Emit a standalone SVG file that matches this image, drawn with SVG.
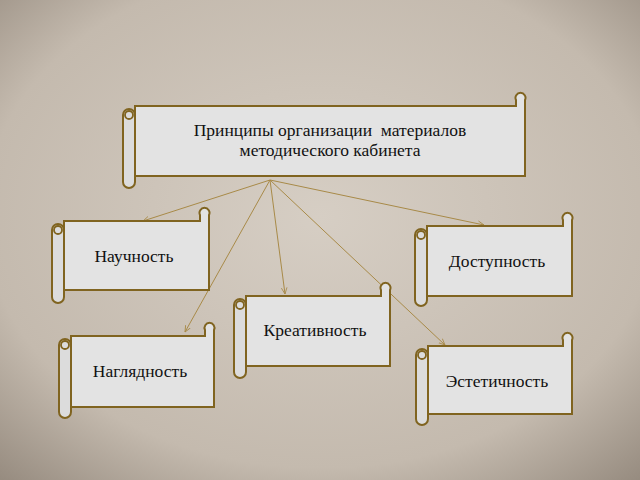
<svg xmlns="http://www.w3.org/2000/svg" width="640" height="480" viewBox="0 0 640 480">
<defs>
<radialGradient id="bg" cx="50%" cy="45%" r="75%">
<stop offset="0" stop-color="#d6cec4"/><stop offset="0.7" stop-color="#c4baae"/><stop offset="1" stop-color="#958a7e"/>
</radialGradient>
<marker id="ar" viewBox="0 0 10 10" refX="9" refY="5" markerWidth="7" markerHeight="7" orient="auto"><path d="M0,1 L9,5 L0,9" fill="none" stroke="#a88a48" stroke-width="1.2"/></marker>
</defs>
<style>
.b{fill:#e3e3e3;stroke:#806420;stroke-width:2}
.t{fill:#dcdcdc;stroke:#806420;stroke-width:2}
.c{fill:#dcdcdc;stroke:#806420;stroke-width:1.8}
.l{fill:none;stroke:#a88a48;stroke-width:1;marker-end:url(#ar)}
text{font-family:"Liberation Serif","DejaVu Serif",serif;font-size:17.5px;fill:#111;text-anchor:middle}
</style>
<rect width="640" height="480" fill="url(#bg)"/>
<g id="connectors">
<line class="l" x1="270" y1="180" x2="143" y2="221"/>
<line class="l" x1="270" y1="180" x2="484" y2="225"/>
<line class="l" x1="270" y1="180" x2="285" y2="294"/>
<line class="l" x1="270" y1="180" x2="185" y2="332"/>
<line class="l" x1="270" y1="180" x2="445" y2="345"/>
</g>
<g id="main">
<path class="b" d="M135,106 H516 V100 A5,5 0 1 1 525,100 V176 H135 Z"/>
<rect class="t" x="123" y="109" width="12" height="79" rx="6"/>
<circle class="c" cx="129" cy="115" r="4"/>
<text x="330" y="136" xml:space="preserve">Принципы организации  материалов</text>
<text x="330" y="156">методического кабинета</text>
</g>
<g id="n1">
<path class="b" d="M64,221 H200 V215 A5,5 0 1 1 209,215 V290 H64 Z"/>
<rect class="t" x="52" y="224" width="12" height="79" rx="6"/>
<circle class="c" cx="58" cy="230" r="4"/>
<text x="134" y="262">Научность</text>
</g>
<g id="n2">
<path class="b" d="M427,226 H563 V220 A5,5 0 1 1 572,220 V296 H427 Z"/>
<rect class="t" x="415" y="229" width="12" height="77" rx="6"/>
<circle class="c" cx="421" cy="235" r="4"/>
<text x="497" y="267">Доступность</text>
</g>
<g id="n3">
<path class="b" d="M246,296 H381 V290 A5,5 0 1 1 390,290 V366 H246 Z"/>
<rect class="t" x="234" y="299" width="12" height="79" rx="6"/>
<circle class="c" cx="240" cy="305" r="4"/>
<text x="315" y="336">Креативность</text>
</g>
<g id="n4">
<path class="b" d="M71,336 H205 V330 A5,5 0 1 1 214,330 V407 H71 Z"/>
<rect class="t" x="59" y="339" width="12" height="79" rx="6"/>
<circle class="c" cx="65" cy="345" r="4"/>
<text x="140" y="377">Наглядность</text>
</g>
<g id="n5">
<path class="b" d="M428,346 H563 V340 A5,5 0 1 1 572,340 V414 H428 Z"/>
<rect class="t" x="416" y="349" width="12" height="76" rx="6"/>
<circle class="c" cx="422" cy="355" r="4"/>
<text x="497" y="387">Эстетичность</text>
</g>
</svg>
